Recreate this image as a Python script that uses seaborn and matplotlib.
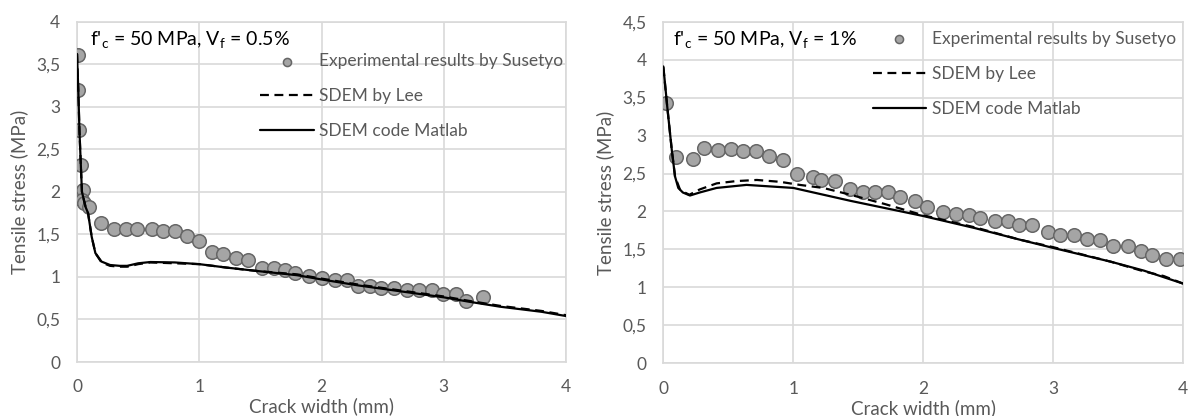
import numpy as np
import pandas as pd
import matplotlib
matplotlib.use("Agg")
import matplotlib.pyplot as plt
import seaborn as sns
from matplotlib.ticker import FixedLocator, FixedFormatter

# ---------------- data ----------------
# Left panel: f'c = 50 MPa, Vf = 0.5%
exp_left_x = [0.01, 0.01, 0.02, 0.03, 0.047, 0.04, 0.057, 0.10, 0.195, 0.30, 0.40, 0.49, 0.61,
              0.70, 0.80, 0.90, 1.00, 1.10, 1.19, 1.30, 1.40, 1.51, 1.61, 1.70, 1.78, 1.90,
              2.00, 2.11, 2.21, 2.30, 2.40, 2.49, 2.59, 2.70, 2.80, 2.90, 2.99, 3.10, 3.18, 3.32]
exp_left_y = [3.61, 3.20, 2.73, 2.31, 2.02, 1.90, 1.87, 1.82, 1.63, 1.56, 1.56, 1.56, 1.56,
              1.54, 1.54, 1.48, 1.42, 1.29, 1.27, 1.22, 1.20, 1.11, 1.11, 1.08, 1.05, 1.01,
              0.985, 0.96, 0.966, 0.89, 0.89, 0.87, 0.87, 0.85, 0.85, 0.85, 0.80, 0.80, 0.72, 0.76]

mat_left_x = [0.0, 0.01, 0.02, 0.04, 0.07, 0.09, 0.12, 0.15, 0.20, 0.27, 0.35, 0.41, 0.50, 0.60,
              0.80, 1.00, 1.22, 1.47, 1.80, 2.00, 2.30, 2.60, 3.00, 3.20, 3.46, 3.80, 4.00]
mat_left_y = [3.62, 3.20, 2.70, 2.00, 1.82, 1.75, 1.47, 1.28, 1.18, 1.14, 1.13, 1.13, 1.16, 1.175,
              1.17, 1.15, 1.11, 1.07, 1.02, 0.97, 0.90, 0.84, 0.76, 0.71, 0.65, 0.59, 0.54]

lee_left_x = [0.0, 0.01, 0.02, 0.04, 0.07, 0.09, 0.12, 0.15, 0.20, 0.27, 0.35, 0.41, 0.50, 0.60,
              0.80, 1.00, 1.22, 1.47, 1.80, 2.00, 2.30, 2.60, 3.00, 3.20, 3.46, 3.80, 4.00]
lee_left_y = [3.62, 3.20, 2.70, 2.00, 1.82, 1.75, 1.47, 1.28, 1.17, 1.13, 1.12, 1.12, 1.15, 1.17,
              1.16, 1.15, 1.11, 1.07, 1.03, 0.98, 0.91, 0.85, 0.77, 0.72, 0.66, 0.60, 0.55]

# Right panel: f'c = 50 MPa, Vf = 1%
exp_right_x = [0.02, 0.10, 0.23, 0.31, 0.42, 0.52, 0.61, 0.71, 0.81, 0.92, 1.03, 1.15, 1.21, 1.32,
               1.44, 1.54, 1.63, 1.73, 1.82, 1.94, 2.03, 2.15, 2.25, 2.35, 2.44, 2.55, 2.65, 2.74,
               2.84, 2.96, 3.05, 3.16, 3.26, 3.36, 3.46, 3.58, 3.68, 3.76, 3.87, 3.98]
exp_right_y = [3.43, 2.72, 2.69, 2.84, 2.81, 2.82, 2.80, 2.80, 2.73, 2.68, 2.49, 2.45, 2.41, 2.40,
               2.29, 2.25, 2.25, 2.25, 2.19, 2.14, 2.06, 1.99, 1.96, 1.95, 1.91, 1.88, 1.88, 1.82,
               1.82, 1.73, 1.69, 1.69, 1.64, 1.62, 1.54, 1.54, 1.48, 1.43, 1.38, 1.38]

mat_right_x = [0.0, 0.03, 0.065, 0.09, 0.115, 0.15, 0.205, 0.28, 0.41, 0.64, 1.00, 1.44, 2.00,
               2.40, 2.74, 3.00, 3.44, 3.70, 4.00]
mat_right_y = [3.91, 3.38, 2.81, 2.46, 2.31, 2.25, 2.21, 2.25, 2.31, 2.35, 2.31, 2.14, 1.94,
               1.78, 1.63, 1.52, 1.34, 1.22, 1.05]

lee_right_x = [0.0, 0.03, 0.065, 0.09, 0.13, 0.20, 0.28, 0.41, 0.56, 0.72, 0.90, 1.05, 1.23, 1.44,
               1.70, 2.00, 2.40, 2.74, 3.00, 3.44, 3.70, 3.85, 4.00]
lee_right_y = [3.90, 3.38, 2.81, 2.46, 2.28, 2.22, 2.29, 2.37, 2.40, 2.415, 2.39, 2.35, 2.31, 2.22,
               2.10, 1.95, 1.79, 1.63, 1.53, 1.34, 1.21, 1.15, 1.05]

x_ticks = [0, 1, 2, 3, 4]
x_tick_labels = ["0", "1", "2", "3", "4"]
y_ticks_left = [0, 0.5, 1, 1.5, 2, 2.5, 3, 3.5, 4]
y_tick_labels_left = ["0", "0,5", "1", "1,5", "2", "2,5", "3", "3,5", "4"]
y_ticks_right = [0, 0.5, 1, 1.5, 2, 2.5, 3, 3.5, 4, 4.5]
y_tick_labels_right = ["0", "0,5", "1", "1,5", "2", "2,5", "3", "3,5", "4", "4,5"]

label_exp = "Experimental results by Susetyo"
label_lee = "SDEM by Lee"
label_mat = "SDEM code Matlab"
title_left = "f'$_\\mathregular{c}$ = 50 MPa, V$_\\mathregular{f}$ = 0.5%"
title_right = "f'$_\\mathregular{c}$ = 50 MPa, V$_\\mathregular{f}$ = 1%"

# ---------------- style ----------------
sns.set_theme(style="white")
plt.rcParams['font.family'] = ['Lato', 'DejaVu Sans']
plt.rcParams['mathtext.fontset'] = 'custom'
plt.rcParams['mathtext.rm'] = 'Lato'

TXT = "#595959"
GRID = "#d9d9d9"
FS_TICK = 12.5
FS_LAB = 13.5
FS_LEG = 12.5

fig = plt.figure(figsize=(11.89, 4.16), dpi=100)
ax1 = fig.add_axes([0.0648, 0.1298, 0.4113, 0.8182])
ax2 = fig.add_axes([0.5579, 0.1267, 0.4371, 0.8212])


def draw(ax, ex, ey, lx, ly, mx, my, yt, ytl, ymax, title, leg_xy, title_xy, ylab_x, xlab_y):
    dexp = pd.DataFrame({"x": ex, "y": ey})
    dlee = pd.DataFrame({"x": lx, "y": ly})
    dmat = pd.DataFrame({"x": mx, "y": my})
    sns.scatterplot(data=dexp, x="x", y="y", ax=ax, s=95, color="#a5a5a5",
                    edgecolor="#666666", linewidth=1.1, label=label_exp, zorder=3)
    sns.lineplot(data=dlee, x="x", y="y", ax=ax, color="black", lw=1.6,
                 linestyle=(0, (4, 2.5)), label=label_lee, estimator=None, zorder=4)
    sns.lineplot(data=dmat, x="x", y="y", ax=ax, color="black", lw=1.6,
                 label=label_mat, estimator=None, zorder=4)
    ax.set_xlim(0, 4)
    ax.set_ylim(0, ymax)
    ax.xaxis.set_major_locator(FixedLocator(x_ticks))
    ax.xaxis.set_major_formatter(FixedFormatter(x_tick_labels))
    ax.yaxis.set_major_locator(FixedLocator(yt))
    ax.yaxis.set_major_formatter(FixedFormatter(ytl))
    ax.grid(True, color=GRID, lw=1.2)
    ax.set_axisbelow(True)
    for sp in ax.spines.values():
        sp.set_color(GRID)
        sp.set_linewidth(1.2)
    ax.tick_params(length=0, labelsize=FS_TICK, labelcolor=TXT)
    ax.tick_params(axis="x", pad=12.5)
    ax.tick_params(axis="y", pad=12)
    ax.set_xlabel("Crack width (mm)", fontsize=FS_LAB, color=TXT)
    ax.set_ylabel("Tensile stress (MPa)", fontsize=FS_LAB, color=TXT)
    ax.yaxis.label.set_va("center")
    ax.xaxis.label.set_va("center")
    ax.yaxis.set_label_coords(ylab_x, 0.5)
    ax.xaxis.set_label_coords(0.5, xlab_y)
    ax.legend(loc="upper left", bbox_to_anchor=leg_xy, bbox_transform=ax.transData,
              frameon=False, fontsize=FS_LEG, labelcolor=TXT, handlelength=3.1,
              handletextpad=0.3, labelspacing=1.1, markerscale=0.6,
              borderpad=0, borderaxespad=0)
    ax.text(title_xy[0], title_xy[1], title, fontsize=14, color="black",
            ha="left", va="center", transform=ax.transData)


draw(ax1, exp_left_x, exp_left_y, lee_left_x, lee_left_y, mat_left_x, mat_left_y,
     y_ticks_left, y_tick_labels_left, 4, title_left, (1.50, 3.63), (0.11, 3.78), -0.1186, -0.13)
draw(ax2, exp_right_x, exp_right_y, lee_right_x, lee_right_y, mat_right_x, mat_right_y,
     y_ticks_right, y_tick_labels_right, 4.5, title_right, (1.61, 4.38), (0.077, 4.26), -0.112, -0.132)

fig.savefig("out.png", dpi=100)
